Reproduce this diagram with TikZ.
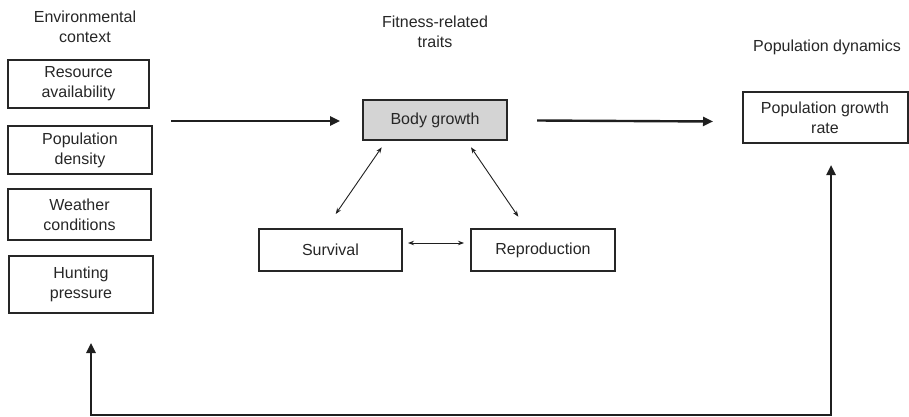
\documentclass[tikz,border=0pt]{standalone}
\usepackage{fontspec}
\setmainfont{Liberation Sans}
\usetikzlibrary{arrows.meta}
\begin{document}
\begin{tikzpicture}[x=1pt,y=-1pt,
  every node/.append style={font=\fontsize{16}{20}\selectfont, text=black!85, align=center, inner sep=0pt},
  box/.style={draw=black!85, line width=2pt, minimum width=#1},
  title/.style={},
  mainarrow/.style={draw=black!88, line width=2.4pt, -{Triangle[length=10pt,width=9pt]}},
  fbarrow/.style={draw=black!88, line width=2.4pt, {Triangle[length=10pt,width=9pt]}-{Triangle[length=10pt,width=9pt]}},
  thinarrow/.style={draw=black!88, line width=0.9pt, {Stealth[length=6pt,width=4.5pt]}-{Stealth[length=6pt,width=4.5pt]}}
]
\useasboundingbox (0,0) rectangle (909,417);

% titles
\node[title] (t1) at (85,27) {Environmental\\context};
\node[title] (t2) at (435,32) {Fitness-related\\traits};
\node[title] (t3) at (827,47) {Population dynamics};

% environmental boxes
\node[box=141pt, minimum height=48pt] (res) at (78.5,84) {Resource\\availability};
\node[box=144pt, minimum height=48pt] (den) at (80,150) {Population\\density};
\node[box=143pt, minimum height=51pt] (wea) at (79.5,214.5) {Weather\\conditions};
\node[box=144pt, minimum height=57pt] (hun) at (81,284.5) {Hunting\\pressure};

% traits
\node[box=144pt, minimum height=40pt, fill=black!17] (body) at (435,120) {Body growth};
\node[box=143pt, minimum height=42pt] (surv) at (330.5,250) {Survival};
\node[box=144pt, minimum height=42pt] (repr) at (543,250) {Reproduction};

% population
\node[box=165pt, minimum height=51pt] (pgr) at (825,117.5) {Population growth\\rate};

% connector end points
\coordinate (e1) at (171,121);
\coordinate (e2) at (340,121);
\coordinate (p1) at (537,120.5);
\coordinate (p2) at (713,121.5);
\coordinate (s1) at (408,243);
\coordinate (s2) at (464,243);
\coordinate (d1) at (381.7,147.3);
\coordinate (d2) at (335.7,214);
\coordinate (r1) at (471,147.3);
\coordinate (r2) at (518.3,216.7);
\coordinate (f1) at (91,343);
\coordinate (f2) at (831,165);

\draw[mainarrow] (e1) -- (e2);
\draw[mainarrow] (p1) -- (p2);
\draw[thinarrow] (s1) -- (s2);
\draw[thinarrow] (d1) -- (d2);
\draw[thinarrow] (r1) -- (r2);
\draw[fbarrow] (f1) -- (91,415) -- (831,415) -- (f2);
\end{tikzpicture}
\end{document}
